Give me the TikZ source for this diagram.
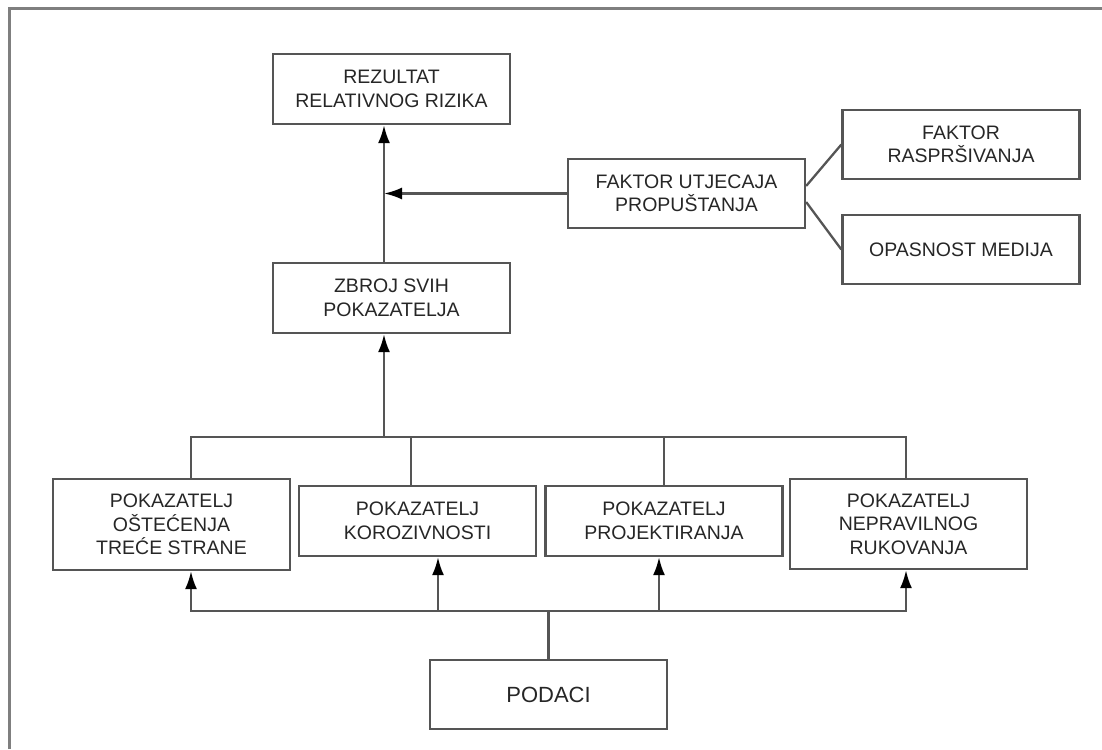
\documentclass[tikz,border=0pt]{standalone}
\usepackage{fontspec}
\setmainfont{Liberation Sans}
\usetikzlibrary{arrows.meta}
\definecolor{linegray}{HTML}{555555}
\definecolor{framegray}{HTML}{7F7F7F}
\definecolor{txt}{HTML}{262626}
\tikzset{
  box/.style={draw=linegray, line width=2.3pt, rectangle, inner sep=0pt, align=center,
    text=txt, font=\fontsize{19.5}{23.5}\selectfont, minimum width=237pt, minimum height=70pt},
  tall/.style={minimum height=91pt},
  conn/.style={draw=linegray, line width=2.3pt},
  arr/.style={conn, -{Latex[length=18pt, width=12pt, color=black]}},
  arrboth/.style={conn, {Latex[length=18pt, width=12pt, color=black]}-{Latex[length=18pt, width=12pt, color=black]}}
}
\begin{document}
\begin{tikzpicture}[x=1pt, y=1pt]
\useasboundingbox (0,0) rectangle (1102,-749);
\draw[framegray, line width=3pt] (9,-749) -- (9,-9) -- (1102,-9);

\node[box] (rez) at (391.5,-89) {REZULTAT\\RELATIVNOG RIZIKA};
\node[box] (zbroj) at (391.5,-298) {ZBROJ SVIH\\POKAZATELJA};
\node[box, minimum height=69pt] (fu) at (686.5,-193.5) {FAKTOR UTJECAJA\\PROPUŠTANJA};
\node[box, minimum height=69pt] (fr) at (961,-144.5) {FAKTOR\\RASPRŠIVANJA};
\node[box, minimum height=69pt] (op) at (961,-249.5) {OPASNOST MEDIJA};

\node[box, tall] (p1) at (171.5,-524.5) {POKAZATELJ\\OŠTEĆENJA\\TREĆE STRANE};
\node[box] (p2) at (417.5,-521) {POKAZATELJ\\KOROZIVNOSTI};
\node[box] (p3) at (664,-521) {POKAZATELJ\\PROJEKTIRANJA};
\node[box, minimum height=90pt] (p4) at (908.5,-524) {POKAZATELJ\\NEPRAVILNOG\\RUKOVANJA};

\node[box, minimum height=69pt, font=\fontsize{22}{26}\selectfont] (pod) at (548.5,-694.5) {PODACI};

\coordinate (sp) at (384,0);
\coordinate (u1) at (191,-437);
\coordinate (u4) at (906,-437);
\coordinate (l1) at (191,-611);
\coordinate (l4) at (906,-611);

% spine
\draw[arr] (zbroj.north -| sp) -- (rez.south -| sp);
\draw[arr] (fu.west) -- (fu.west -| sp);
\draw[conn] ([yshift=7.5pt]fu.east) -- (fr.west);
\draw[conn] ([yshift=-8.5pt]fu.east) -- (op.west);
\draw[arr] (u1 -| sp) -- (zbroj.south -| sp);

% upper bus
\draw[conn] (p1.north -| u1) -- (u1) -- (u4) -- (p4.north -| u4);
\draw[conn] ([xshift=-6.5pt]p2.north) -- ([xshift=-6.5pt]p2.north |- u1);
\draw[conn] (p3.north) -- (p3.north |- u1);

% lower bus
\draw[arrboth] (p1.south -| l1) -- (l1) -- (l4) -- (p4.south -| l4);
\draw[arr] ([xshift=20.5pt]p2.south |- l1) -- ([xshift=20.5pt]p2.south);
\draw[arr] ([xshift=-5pt]p3.south |- l1) -- ([xshift=-5pt]p3.south);
\draw[conn] (pod.north) -- (pod.north |- l1);
\end{tikzpicture}
\end{document}
